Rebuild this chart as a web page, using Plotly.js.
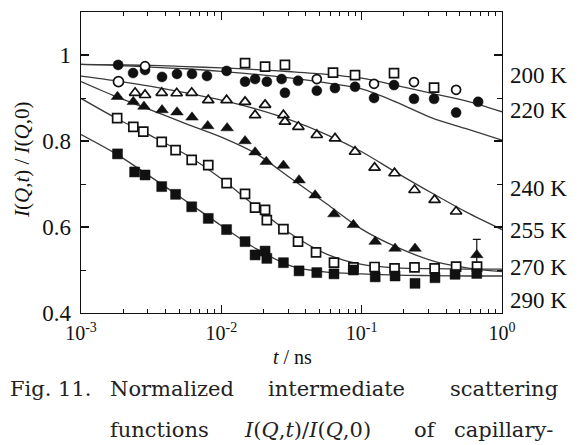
<!DOCTYPE html>
<html>
<head>
<meta charset="utf-8">
<script src="https://cdn.plot.ly/plotly-3.0.1.min.js"></script>
<style>
  html, body { margin: 0; padding: 0; background: #fff; }
  #chart { width: 584px; height: 445px; }
</style>
</head>
<body>
<div id="chart"></div>
<script>
// Normalized intermediate scattering functions I(Q,t)/I(Q,0), time in ns

// --- measured points ---
const t200 = [0.00286, 0.01476, 0.0205, 0.0284, 0.0479, 0.0625, 0.0897, 0.1225, 0.170, 0.236, 0.328, 0.471];
const y200 = [0.974, 0.981, 0.973, 0.977, 0.944, 0.959, 0.953, 0.933, 0.958, 0.937, 0.924, 0.919];
const s200 = ['circle', 'square', 'square', 'square', 'circle', 'square', 'square', 'circle', 'square', 'circle', 'square', 'circle'];

const t220 = [0.00184, 0.00235, 0.00286, 0.00378, 0.00483, 0.00618, 0.0079, 0.0109, 0.01476, 0.0174, 0.0211, 0.0269, 0.0284, 0.0352, 0.0479, 0.0645, 0.0897, 0.1225, 0.170, 0.236, 0.328, 0.471, 0.676];
const y220 = [0.977, 0.958, 0.965, 0.949, 0.956, 0.956, 0.951, 0.963, 0.938, 0.944, 0.938, 0.944, 0.912, 0.940, 0.917, 0.923, 0.926, 0.900, 0.930, 0.898, 0.898, 0.866, 0.891];

const t240 = [0.00185, 0.00243, 0.00286, 0.00376, 0.00481, 0.00615, 0.00807, 0.0109, 0.01476, 0.0174, 0.0205, 0.0277, 0.0284, 0.0354, 0.0479, 0.0646, 0.0897, 0.1236, 0.1715, 0.238, 0.331, 0.471];
const y240 = [0.938, 0.912, 0.907, 0.912, 0.911, 0.912, 0.895, 0.895, 0.891, 0.860, 0.884, 0.860, 0.845, 0.833, 0.814, 0.806, 0.775, 0.738, 0.725, 0.686, 0.663, 0.636];
const s240 = ['circle'].concat(new Array(t240.length - 1).fill('triangle-up'));

const t255 = [0.00182, 0.00236, 0.00281, 0.00378, 0.00483, 0.00618, 0.0080, 0.0110, 0.01476, 0.0174, 0.0209, 0.0277, 0.0358, 0.0466, 0.0635, 0.0873, 0.1248, 0.173, 0.240, 0.661];
const y255 = [0.903, 0.891, 0.880, 0.872, 0.867, 0.855, 0.835, 0.830, 0.800, 0.774, 0.752, 0.743, 0.709, 0.674, 0.630, 0.605, 0.566, 0.550, 0.550, 0.535];
const e255 = [0, 0, 0, 0, 0, 0, 0, 0, 0, 0, 0, 0, 0, 0, 0, 0, 0, 0, 0, 0.036];

const t270 = [0.00181, 0.00236, 0.00278, 0.00376, 0.00472, 0.00615, 0.00807, 0.0109, 0.01476, 0.0174, 0.0205, 0.0211, 0.0277, 0.0352, 0.0473, 0.0635, 0.0873, 0.1236, 0.1715, 0.238, 0.331, 0.471, 0.664];
const y270 = [0.853, 0.833, 0.822, 0.798, 0.779, 0.756, 0.744, 0.702, 0.677, 0.645, 0.640, 0.616, 0.595, 0.566, 0.541, 0.517, 0.506, 0.507, 0.504, 0.506, 0.504, 0.508, 0.508];

const t290 = [0.00182, 0.00241, 0.00286, 0.00376, 0.00472, 0.00615, 0.00807, 0.0109, 0.01476, 0.0174, 0.0205, 0.0211, 0.0277, 0.0358, 0.0479, 0.0635, 0.0873, 0.1248, 0.173, 0.240, 0.333, 0.463, 0.661];
const y290 = [0.770, 0.728, 0.721, 0.694, 0.676, 0.647, 0.620, 0.594, 0.566, 0.535, 0.544, 0.527, 0.517, 0.498, 0.494, 0.491, 0.500, 0.484, 0.486, 0.469, 0.482, 0.490, 0.492];

// --- fitted curves, sampled every quarter decade ---
const tFit = [0.001, 0.00178, 0.00316, 0.00562, 0.01, 0.0178, 0.0316, 0.0562, 0.1, 0.178, 0.316, 0.562, 1.0];
const f200 = [0.978, 0.977, 0.976, 0.973, 0.970, 0.966, 0.961, 0.955, 0.946, 0.929, 0.911, 0.893, 0.868];
const f220 = [0.978, 0.976, 0.972, 0.968, 0.962, 0.955, 0.946, 0.935, 0.921, 0.890, 0.854, 0.828, 0.802];
const f240 = [0.951, 0.940, 0.927, 0.912, 0.895, 0.874, 0.848, 0.815, 0.775, 0.726, 0.679, 0.634, 0.594];
const f255 = [0.938, 0.903, 0.872, 0.840, 0.809, 0.770, 0.712, 0.654, 0.595, 0.553, 0.522, 0.505, 0.496];
const f270 = [0.899, 0.853, 0.812, 0.768, 0.712, 0.646, 0.583, 0.537, 0.513, 0.505, 0.503, 0.502, 0.502];
const f290 = [0.815, 0.770, 0.716, 0.660, 0.603, 0.549, 0.509, 0.495, 0.491, 0.488, 0.487, 0.486, 0.486];

// --- labels ---
const tempLabels = ['200 K', '220 K', '240 K', '255 K', '270 K', '290 K'];
const tempLabelY = [75, 110, 188, 230, 267, 300];   // pixel rows of the right-hand labels
const yTickVals = [0.4, 0.6, 0.8, 1.0];
const yTickText = ['0.4', '0.6', '0.8', '1'];
const xTickVals = [0.001, 0.01, 0.1, 1];
const xTickText = ['10<sup>-3</sup>', '10<sup>-2</sup>', '10<sup>-1</sup>', '10<sup>0</sup>'];

const SERIF = 'Liberation Serif';
const INK = '#111';

function fitTrace(y) {
  return { x: tFit, y: y, mode: 'lines', type: 'scatter', hoverinfo: 'skip',
           line: { color: '#3a3a3a', width: 1.3, shape: 'spline', smoothing: 0.8 } };
}
function openTrace(x, y, symbol, size) {
  return { x: x, y: y, mode: 'markers', type: 'scatter',
           marker: { symbol: symbol, size: size, color: '#fff', line: { color: INK, width: 1.7 } } };
}
function filledTrace(x, y, symbol, size) {
  return { x: x, y: y, mode: 'markers', type: 'scatter',
           marker: { symbol: symbol, size: size, color: INK, line: { color: INK, width: 0.5 } } };
}

const err255 = filledTrace(t255, y255, 'triangle-up', 11);
err255.error_y = { type: 'data', array: e255, visible: true, color: INK, thickness: 1.2, width: 4 };

const traces = [
  fitTrace(f200), fitTrace(f220), fitTrace(f240), fitTrace(f255), fitTrace(f270), fitTrace(f290),
  filledTrace(t220, y220, 'circle', 10),
  openTrace(t200, y200, s200, 9),
  openTrace(t240, y240, s240, 10),
  err255,
  openTrace(t270, y270, 'square', 9),
  filledTrace(t290, y290, 'square', 10)
];

// plot area geometry used for placing side text
const L = 81, R = 502, T = 12, B = 313;
const W = 584, H = 445;
const px2paperX = px => (px - L) / (R - L);
const px2paperY = py => (B - py) / (B - T);

const annotations = [];
tempLabels.forEach((txt, i) => {
  annotations.push({ text: txt, xref: 'paper', yref: 'paper', x: px2paperX(508), y: px2paperY(tempLabelY[i]),
                     xanchor: 'left', yanchor: 'middle', showarrow: false,
                     font: { family: SERIF, size: 23, color: INK } });
});
// axis titles
annotations.push({ text: '<i>I</i>(<i>Q</i>,<i>t</i>) / <i>I</i>(<i>Q</i>,0)', textangle: -90,
                   xref: 'paper', yref: 'paper', x: px2paperX(22), y: px2paperY(160),
                   xanchor: 'center', yanchor: 'middle', showarrow: false,
                   font: { family: SERIF, size: 21, color: INK } });
annotations.push({ text: '<i>t</i> / ns', xref: 'paper', yref: 'paper', x: px2paperX(292), y: px2paperY(357),
                   xanchor: 'center', yanchor: 'middle', showarrow: false,
                   font: { family: SERIF, size: 20, color: INK } });

// figure caption, laid out word by word to keep its justified spacing
const CAP = 'DejaVu Serif';
const capWords = [
  ['Fig. 11.', 8, 389], ['Normalized', 108, 389], ['intermediate', 266, 389], ['scattering', 448, 389],
  ['functions', 108, 430], ['<i>I</i>(<i>Q</i>,<i>t</i>)/<i>I</i>(<i>Q</i>,0)', 242, 430], ['of', 412, 430], ['capillary-', 452, 430]
];
capWords.forEach(w => {
  annotations.push({ text: w[0], xref: 'paper', yref: 'paper', x: px2paperX(w[1]), y: px2paperY(w[2]),
                     xanchor: 'left', yanchor: 'middle', showarrow: false,
                     font: { family: CAP, size: 21, color: '#222' } });
});

const layout = {
  width: W, height: H,
  margin: { l: L, r: W - R, t: T, b: H - B },
  paper_bgcolor: '#fff', plot_bgcolor: '#fff',
  showlegend: false,
  xaxis: {
    type: 'log', range: [-3, 0], tickvals: xTickVals, ticktext: xTickText,
    showgrid: false, zeroline: false,
    showline: true, linecolor: INK, linewidth: 1.4, mirror: 'ticks',
    ticks: 'inside', ticklen: 8, tickwidth: 1.2, tickcolor: INK,
    minor: { dtick: 'D1', ticks: 'inside', ticklen: 4, tickwidth: 1, tickcolor: INK, showgrid: false },
    tickfont: { family: SERIF, size: 20, color: INK }, ticklabelstandoff: 2
  },
  yaxis: {
    range: [0.4, 1.1], tickvals: yTickVals, ticktext: yTickText,
    showgrid: false, zeroline: false,
    showline: true, linecolor: INK, linewidth: 1.4, mirror: 'ticks',
    ticks: 'inside', ticklen: 8, tickwidth: 1.2, tickcolor: INK,
    minor: { dtick: 0.1, tick0: 0.4, ticks: 'inside', ticklen: 5, tickwidth: 1, tickcolor: INK, showgrid: false },
    tickfont: { family: SERIF, size: 23, color: INK }, ticklabelstandoff: 4
  },
  annotations: annotations
};

Plotly.newPlot('chart', traces, layout, { displayModeBar: false, staticPlot: true });
</script>
</body>
</html>
